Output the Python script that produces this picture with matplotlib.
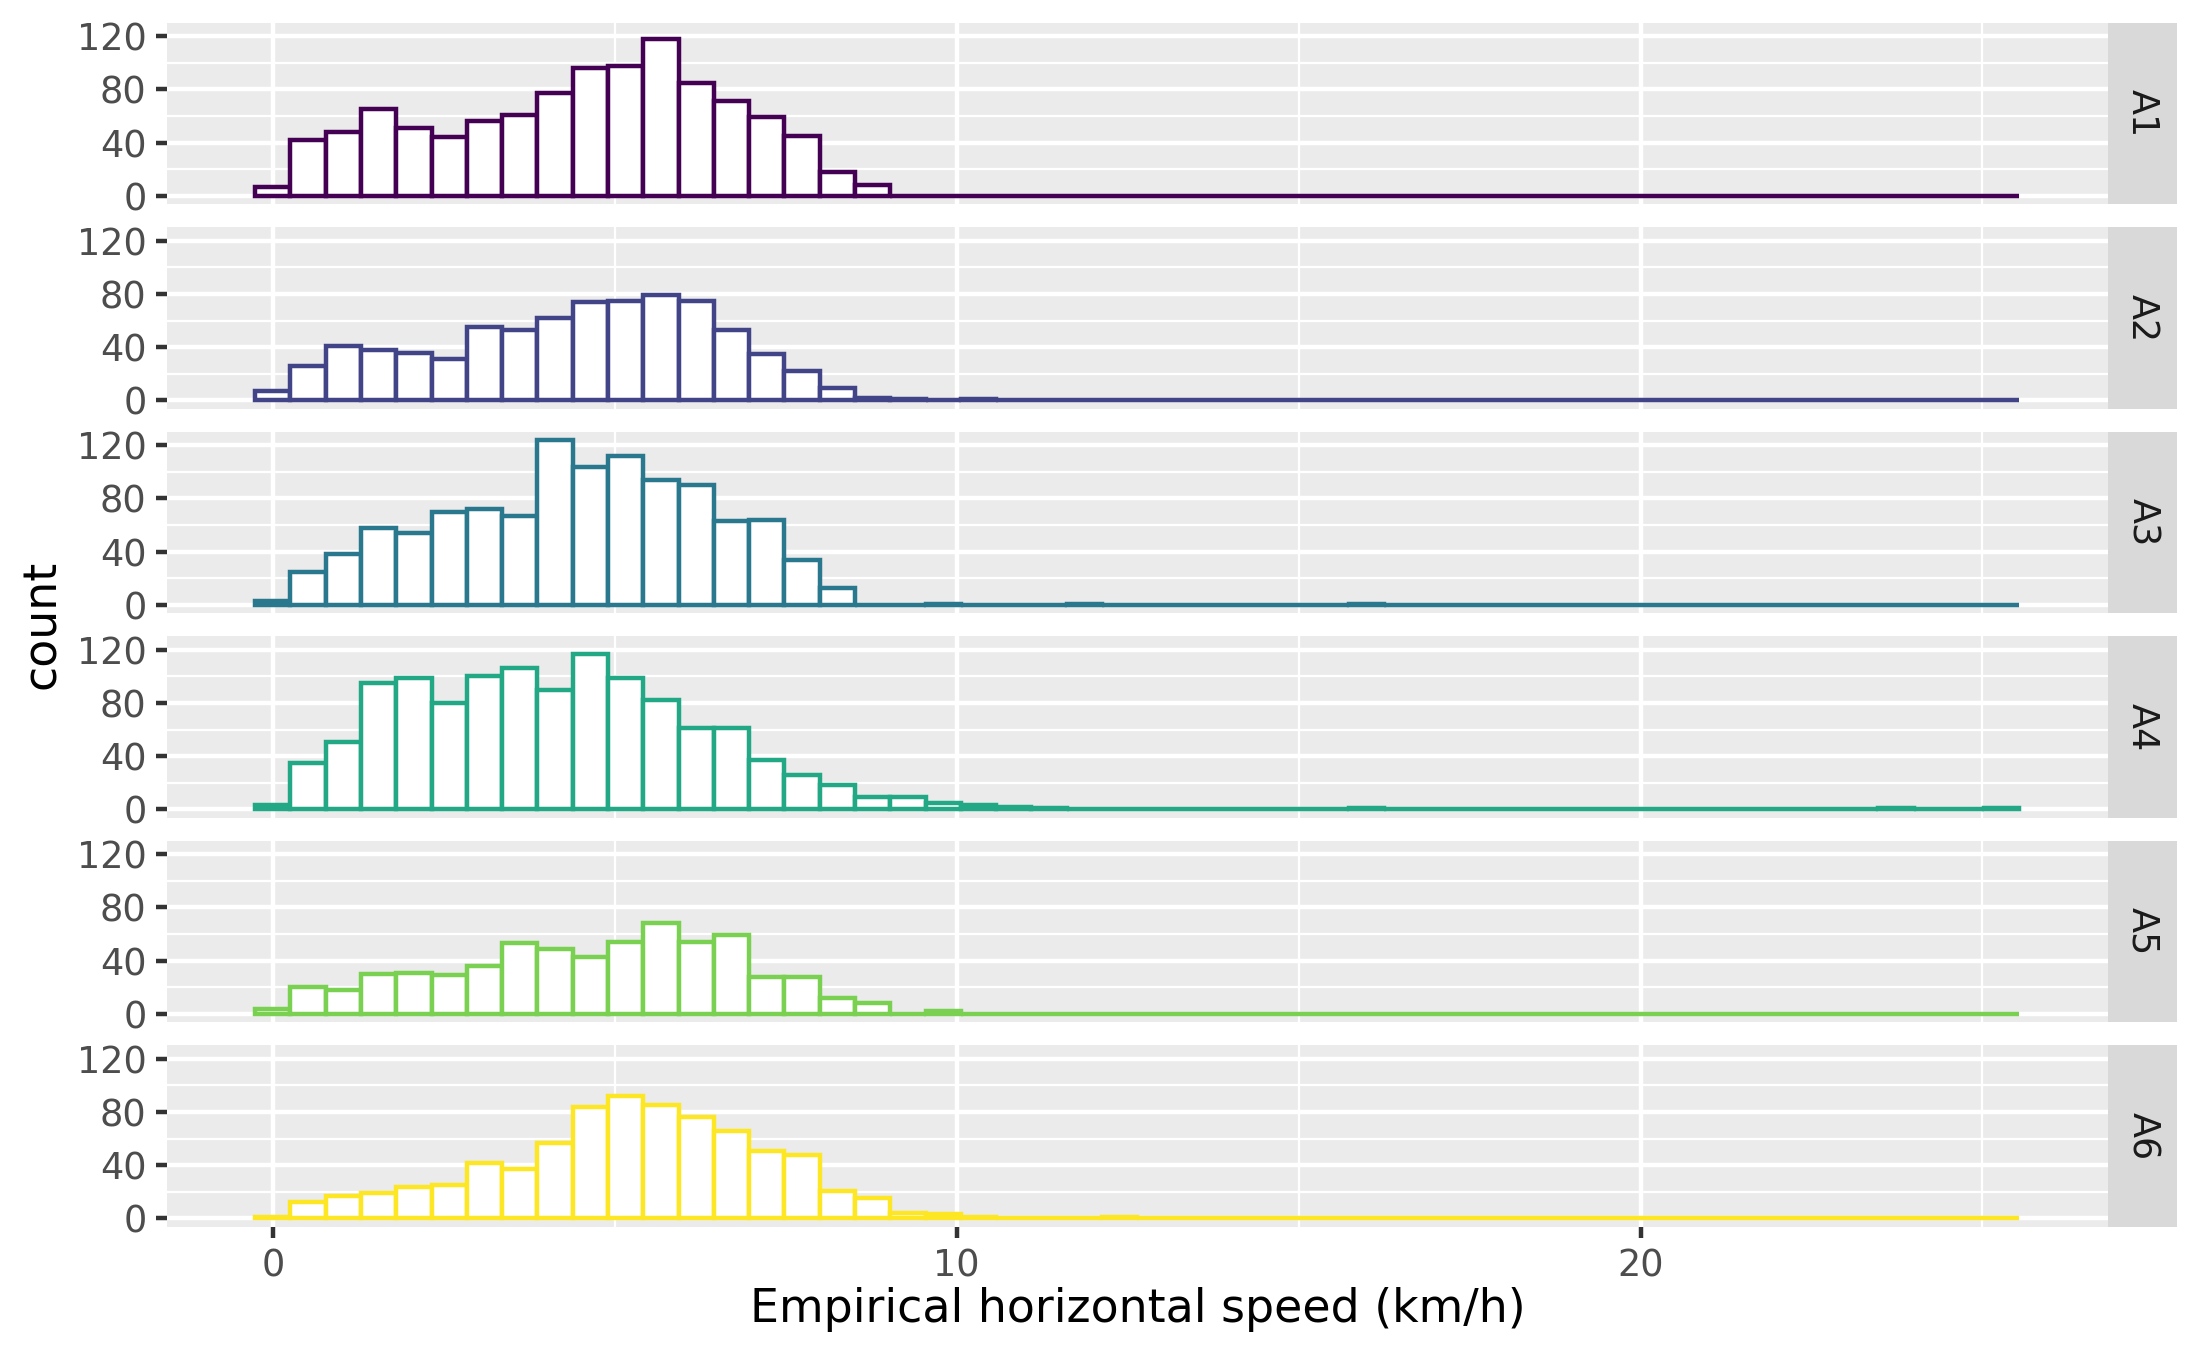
import numpy as np
import matplotlib
matplotlib.use("Agg")
import matplotlib.pyplot as plt

# histogram counts per group, 50 bins of ~0.516 km/h, first bin centred on 0
bin_width = 0.516
groups = ["A1", "A2", "A3", "A4", "A5", "A6"]
colors = ["#440154", "#414487", "#2A788E", "#22A884", "#7AD151", "#FDE725"]

counts_a1 = [7, 42, 48, 65, 51, 44, 56, 61, 77, 96, 98, 118, 85, 71, 59, 45, 18, 8,
             0, 0, 0, 0, 0, 0, 0, 0, 0, 0, 0, 0, 0, 0, 0, 0, 0, 0, 0, 0, 0, 0,
             0, 0, 0, 0, 0, 0, 0, 0, 0, 0]
counts_a2 = [7, 26, 41, 38, 36, 31, 55, 53, 62, 74, 75, 79, 75, 53, 35, 22, 9, 2,
             1, 0, 1, 0, 0, 0, 0, 0, 0, 0, 0, 0, 0, 0, 0, 0, 0, 0, 0, 0, 0, 0,
             0, 0, 0, 0, 0, 0, 0, 0, 0, 0]
counts_a3 = [3, 25, 38, 58, 54, 70, 72, 67, 124, 104, 112, 94, 90, 63, 64, 34, 13, 0,
             0, 1, 0, 0, 0, 1, 0, 0, 0, 0, 0, 0, 0, 1, 0, 0, 0, 0, 0, 0, 0, 0,
             0, 0, 0, 0, 0, 0, 0, 0, 0, 0]
counts_a4 = [3, 35, 51, 95, 99, 80, 100, 106, 90, 117, 99, 82, 61, 61, 37, 26, 18, 9,
             9, 5, 3, 2, 1, 0, 0, 0, 0, 0, 0, 0, 0, 1, 0, 0, 0, 0, 0, 0, 0, 0,
             0, 0, 0, 0, 0, 0, 1, 0, 0, 1]
counts_a5 = [4, 20, 18, 30, 31, 29, 36, 53, 49, 43, 54, 68, 54, 59, 28, 28, 12, 8,
             0, 2, 0, 0, 0, 0, 0, 0, 0, 0, 0, 0, 0, 0, 0, 0, 0, 0, 0, 0, 0, 0,
             0, 0, 0, 0, 0, 0, 0, 0, 0, 0]
counts_a6 = [1, 12, 17, 19, 24, 25, 42, 37, 57, 84, 92, 85, 76, 66, 51, 48, 21, 15,
             4, 3, 1, 0, 0, 0, 1, 0, 0, 0, 0, 0, 0, 0, 0, 0, 0, 0, 0, 0, 0, 0,
             0, 0, 0, 0, 0, 0, 0, 0, 0, 0]
all_counts = [counts_a1, counts_a2, counts_a3, counts_a4, counts_a5, counts_a6]

W, H = 2200, 1357
fig = plt.figure(figsize=(W / 300, H / 300), dpi=300)
plt.rcParams['font.family'] = ['DejaVu Sans']

lw = 1.07
left, right = 167, 2107.7
strip_w = 69.3
top0, ph, gap = 22.7, 181.5, 23.0

centers = np.arange(50) * bin_width
xmin = centers[0] - bin_width / 2
xmax = centers[-1] + bin_width / 2
xpad = (xmax - xmin) * 0.05
ymax_data = max(max(c) for c in all_counts)

for i, (g, col, cnt) in enumerate(zip(groups, colors, all_counts)):
    top = top0 + i * (ph + gap)
    rect = [left / W, 1 - (top + ph) / H, (right - left) / W, ph / H]
    ax = fig.add_axes(rect)
    ax.set_facecolor("#EBEBEB")
    for s in ax.spines.values():
        s.set_visible(False)
    ax.bar(centers, cnt, width=bin_width, color="white", edgecolor=col,
           linewidth=lw, zorder=3)
    ax.set_xlim(xmin - xpad, xmax + xpad)
    ax.set_ylim(-ymax_data * 0.05, ymax_data * 1.05)
    ax.set_yticks([0, 40, 80, 120])
    ax.set_yticks([20, 60, 100], minor=True)
    ax.set_xticks([0, 10, 20])
    ax.set_xticks([5, 15, 25], minor=True)
    ax.grid(True, which="major", color="white", linewidth=lw, zorder=1)
    ax.grid(True, which="minor", color="white", linewidth=lw / 2, zorder=1)
    ax.set_axisbelow(True)
    ax.tick_params(which="major", length=2.75, width=lw, color="#333333",
                   labelsize=8.8, labelcolor="#4D4D4D", pad=2.2)
    ax.tick_params(which="minor", length=0)
    if i < len(groups) - 1:
        ax.tick_params(axis="x", which="major", length=0, labelbottom=False)

    # facet strip on the right
    sax = fig.add_axes([right / W, 1 - (top + ph) / H, strip_w / W, ph / H])
    sax.set_facecolor("#D9D9D9")
    sax.set_xticks([])
    sax.set_yticks([])
    for s in sax.spines.values():
        s.set_visible(False)
    sax.text(0.5, 0.5, g, rotation=-90, ha="center", va="center",
             fontsize=8.8, color="#1A1A1A", transform=sax.transAxes)

fig.text((left + right) / 2 / W, 1 - 1309 / H, "Empirical horizontal speed (km/h)",
         ha="center", va="center", fontsize=11, color="black")
fig.text(42 / W, 1 - (top0 + (6 * ph + 5 * gap) / 2) / H, "count",
         ha="center", va="center", rotation=90, fontsize=11, color="black")

fig.savefig("out.png", dpi=300, facecolor="white")
